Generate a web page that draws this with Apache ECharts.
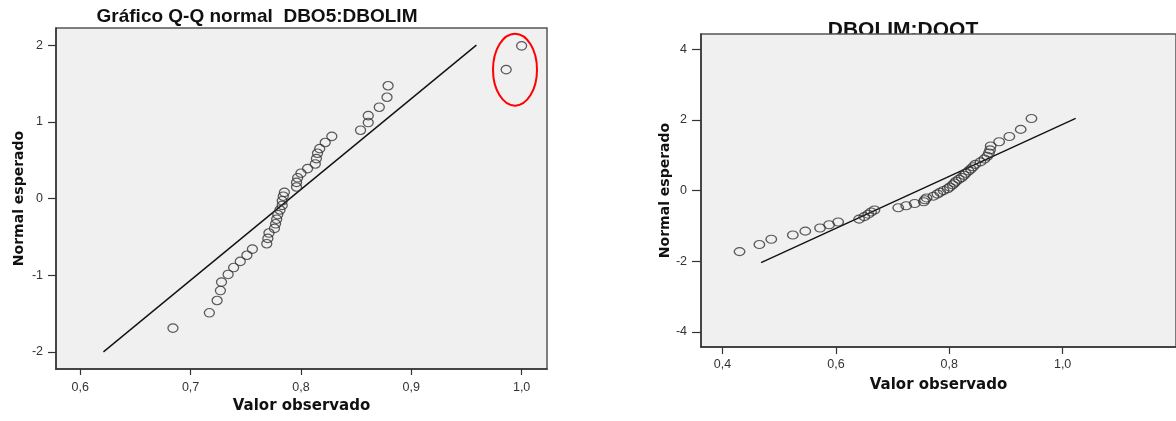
<!DOCTYPE html>
<html>
<head>
<meta charset="utf-8">
<script src="https://cdn.jsdelivr.net/npm/echarts@6/dist/echarts.min.js"></script>
<style>
html,body{margin:0;padding:0;background:#fff;}
#chart{width:1176px;height:421px;}
</style>
</head>
<body>
<div id="chart"></div>
<script>
// ---- Left chart: Gráfico Q-Q normal DBO5:DBOLIM ----
const leftTitle = 'Gráfico Q-Q normal  DBO5:DBOLIM';
const leftObserved = [0.684, 0.717, 0.724, 0.727, 0.728, 0.734, 0.739, 0.745, 0.751, 0.756,
  0.769, 0.770, 0.771, 0.776, 0.777, 0.778, 0.779, 0.781, 0.783, 0.783,
  0.784, 0.785, 0.796, 0.796, 0.797, 0.800, 0.806, 0.813, 0.814, 0.815,
  0.817, 0.822, 0.828, 0.854, 0.861, 0.861, 0.871, 0.878, 0.879, 0.986, 1.000];
const leftExpected = [-1.69, -1.49, -1.33, -1.20, -1.09, -0.99, -0.90, -0.82, -0.74, -0.66,
  -0.59, -0.52, -0.45, -0.39, -0.33, -0.27, -0.21, -0.15, -0.09, -0.03,
  0.03, 0.08, 0.15, 0.21, 0.27, 0.33, 0.39, 0.45, 0.52, 0.59,
  0.65, 0.73, 0.81, 0.89, 0.99, 1.08, 1.19, 1.32, 1.47, 1.68, 1.99];
const leftLineX = [0.621, 0.959];
const leftLineY = [-2.0, 2.0];
const leftXTicks = [0.6, 0.7, 0.8, 0.9, 1.0];
const leftYTicks = [-2, -1, 0, 1, 2];
const leftOutlierCenter = [0.994, 1.68];

// ---- Right chart: DBOLIM:DQOT ----
const rightTitle = 'DBOLIM:DQOT';
const rightObserved = [0.430, 0.465, 0.486, 0.524, 0.546, 0.572, 0.588, 0.604, 0.641, 0.650,
  0.657, 0.662, 0.668, 0.710, 0.724, 0.739, 0.755, 0.757, 0.760, 0.772,
  0.779, 0.784, 0.790, 0.797, 0.801, 0.806, 0.809, 0.812, 0.817, 0.822,
  0.826, 0.829, 0.834, 0.838, 0.842, 0.846, 0.855, 0.862, 0.867, 0.870,
  0.872, 0.873, 0.888, 0.906, 0.926, 0.945];
const rightExpected = [-1.73, -1.53, -1.38, -1.26, -1.15, -1.06, -0.97, -0.89, -0.81, -0.74,
  -0.67, -0.61, -0.55, -0.49, -0.43, -0.37, -0.32, -0.26, -0.21, -0.16,
  -0.10, -0.05, 0.00, 0.05, 0.10, 0.16, 0.21, 0.26, 0.32, 0.37,
  0.43, 0.49, 0.55, 0.61, 0.67, 0.74, 0.81, 0.89, 0.97, 1.06,
  1.15, 1.26, 1.38, 1.53, 1.73, 2.04];
const rightLineX = [0.468, 1.023];
const rightLineY = [-2.04, 2.04];
const rightXTicks = [0.4, 0.6, 0.8, 1.0];
const rightYTicks = [-4, -2, 0, 2, 4];

const xAxisName = 'Valor observado';
const yAxisName = 'Normal esperado';

function zip(a, b) { return a.map((v, i) => [v, b[i]]); }
const fmtX = v => v.toFixed(1).replace('.', ',');
const fmtY = v => String(Math.round(v));

const labelFont = { fontFamily: 'Liberation Sans, Arial, sans-serif', fontSize: 12.5, color: '#333' };
const nameFont = { fontFamily: 'DejaVu Sans, Verdana, sans-serif', fontSize: 15, fontWeight: 'bold', color: '#111' };

function xAxis(gridIndex, min, max, ticks, tickLen, margin, gap) {
  return {
    type: 'value', gridIndex, min, max, z: 3,
    name: xAxisName, nameLocation: 'middle', nameGap: gap,
    nameTextStyle: nameFont,
    axisLine: { show: true, onZero: false, lineStyle: { color: '#333', width: 1.5 } },
    axisTick: { show: true, length: tickLen, customValues: ticks, lineStyle: { color: '#333', width: 1.2 } },
    axisLabel: Object.assign({ customValues: ticks, formatter: fmtX, margin }, labelFont),
    splitLine: { show: false }
  };
}
function yAxis(gridIndex, min, max, ticks, tickLen, margin, gap) {
  return {
    type: 'value', gridIndex, min, max, z: 3,
    name: yAxisName, nameLocation: 'middle', nameGap: gap,
    nameTextStyle: Object.assign({}, nameFont, { fontSize: 14 }),
    axisLine: { show: true, onZero: false, lineStyle: { color: '#333', width: 1.5 } },
    axisTick: { show: true, length: tickLen, customValues: ticks, lineStyle: { color: '#333', width: 1.2 } },
    axisLabel: Object.assign({ customValues: ticks, formatter: fmtY, margin }, labelFont),
    splitLine: { show: false }
  };
}

const chart = echarts.init(document.getElementById('chart'), null, { renderer: 'canvas' });
const option = {
  backgroundColor: '#ffffff',
  animation: false,
  grid: [
    { left: 56, top: 28, width: 491, height: 341, show: true, z: 1,
      backgroundColor: '#f0f0f0', borderColor: '#555', borderWidth: 1.5 },
    { left: 701, top: 34, width: 514, height: 313, show: true, z: 1,
      backgroundColor: '#f0f0f0', borderColor: '#555', borderWidth: 1.5 }
  ],
  xAxis: [
    xAxis(0, 0.578, 1.023, leftXTicks, 6, 12, 30),
    xAxis(1, 0.362, 1.2, rightXTicks, 7, 11, 31)
  ],
  yAxis: [
    yAxis(0, -2.223, 2.223, leftYTicks, 8, 13, 30),
    yAxis(1, -4.43, 4.43, rightYTicks, 9, 14, 26)
  ],
  graphic: [
    { type: 'text', x: 257, y: 7, z: 0,
      style: { text: leftTitle, textAlign: 'center', fill: '#111',
        font: 'bold 19px "Liberation Sans", Arial, sans-serif' } },
    { type: 'text', x: 903, y: 20, z: 0,
      style: { text: rightTitle, textAlign: 'center', fill: '#111',
        font: 'bold 21px "Liberation Sans", Arial, sans-serif' } }
  ],
  series: [
    { type: 'line', xAxisIndex: 0, yAxisIndex: 0, z: 4, data: zip(leftLineX, leftLineY),
      symbol: 'none', lineStyle: { color: '#111', width: 1.4 } },
    { type: 'scatter', xAxisIndex: 0, yAxisIndex: 0, z: 5, data: zip(leftObserved, leftExpected),
      symbol: 'circle', symbolSize: [10, 8.5],
      itemStyle: { color: 'rgba(0,0,0,0)', borderColor: '#333', borderWidth: 1.2 } },
    { type: 'line', xAxisIndex: 1, yAxisIndex: 1, z: 4, data: zip(rightLineX, rightLineY),
      symbol: 'none', lineStyle: { color: '#111', width: 1.4 } },
    { type: 'scatter', xAxisIndex: 1, yAxisIndex: 1, z: 5, data: zip(rightObserved, rightExpected),
      symbol: 'circle', symbolSize: [10.5, 8],
      itemStyle: { color: 'rgba(0,0,0,0)', borderColor: '#333', borderWidth: 1.2 } }
  ]
};
chart.setOption(option);

// red ellipse annotation around the two outliers, placed via the chart's own scales
const c = chart.convertToPixel({ xAxisIndex: 0, yAxisIndex: 0 }, leftOutlierCenter);
chart.setOption({
  graphic: [
    option.graphic[0], option.graphic[1],
    { type: 'ellipse', z: 10, shape: { cx: c[0], cy: c[1], rx: 22, ry: 36 },
      style: { fill: 'none', stroke: '#ff0000', lineWidth: 2 } }
  ]
});
</script>
</body>
</html>
